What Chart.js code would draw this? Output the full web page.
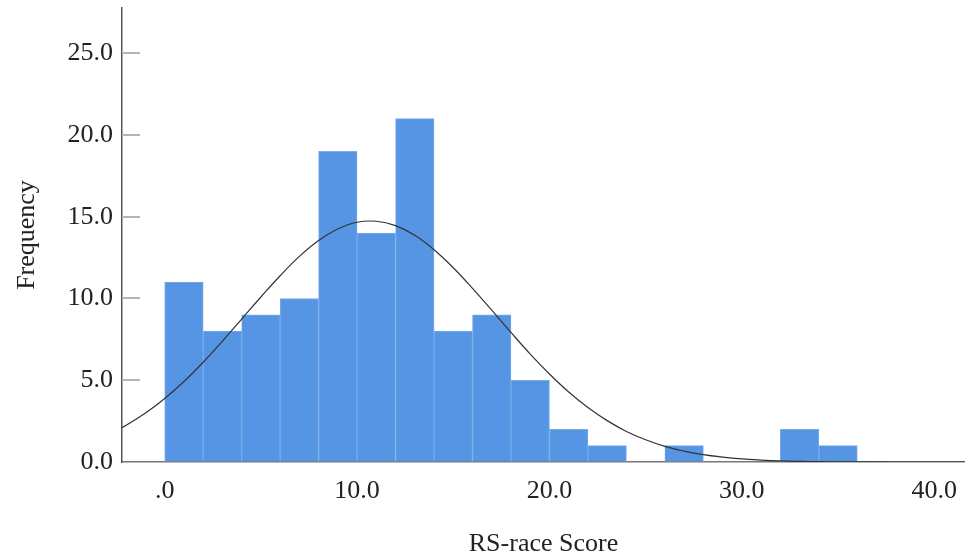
<!DOCTYPE html>
<html>
<head>
<meta charset="utf-8">
<script src="https://cdn.jsdelivr.net/npm/chart.js@4.4.1/dist/chart.umd.min.js"></script>
<style>
  html, body { margin: 0; padding: 0; background: #fff; }
  #wrap { width: 965px; height: 557px; }
</style>
</head>
<body>
<div id="wrap"><canvas id="hist"></canvas></div>
<script>
// histogram bins (width 2) - centers and counts
const binCenters = [1, 3, 5, 7, 9, 11, 13, 15, 17, 19, 21, 23, 25, 27, 29, 31, 33, 35];
const frequencies = [11, 8, 9, 10, 19, 14, 21, 8, 9, 5, 2, 1, 0, 1, 0, 0, 2, 1];

// normal curve
const curveX = [-3, -2, -1, 0, 1, 2, 3, 4, 5, 6, 7, 8, 9, 10, 11, 12, 13, 14, 15, 16, 17, 18, 19, 20,
  21, 22, 23, 24, 25, 26, 27, 28, 29, 30, 31, 32, 33, 34, 35, 36, 38, 40, 42];
const curveY = [1.65, 2.25, 2.99, 3.88, 4.92, 6.10, 7.39, 8.74, 10.09, 11.39, 12.57, 13.54, 14.25, 14.66,
  14.72, 14.45, 13.86, 12.98, 11.88, 10.62, 9.28, 7.92, 6.60, 5.38, 4.28, 3.33, 2.53, 1.87, 1.36, 0.96,
  0.67, 0.45, 0.30, 0.19, 0.12, 0.07, 0.04, 0.02, 0.01, 0.01, 0, 0, 0];

const xTickValues = [0, 10, 20, 30, 40];
const xTickLabels = ['.0', '10.0', '20.0', '30.0', '40.0'];
const yTickValues = [0, 5, 10, 15, 20, 25];
const yTickLabels = ['0.0', '5.0', '10.0', '15.0', '20.0', '25.0'];

const serif = "'Liberation Serif', 'DejaVu Serif', serif";

// short tick marks pointing into the plot on the y axis
const innerTicks = {
  id: 'innerTicks',
  afterDatasetsDraw(chart) {
    const y = chart.scales.y;
    const ctx = chart.ctx;
    const left = chart.chartArea.left;
    ctx.save();
    ctx.strokeStyle = '#b4b4b4';
    ctx.lineWidth = 2;
    y.ticks.forEach(t => {
      if (t.value === 0) return;
      const py = Math.round(y.getPixelForValue(t.value));
      ctx.beginPath();
      ctx.moveTo(left, py);
      ctx.lineTo(left + 18, py);
      ctx.stroke();
    });
    ctx.restore();
  }
};

new Chart(document.getElementById('hist'), {
  type: 'bar',
  data: {
    datasets: [{
      type: 'line',
      data: curveX.map((x, i) => ({ x: x, y: curveY[i] })),
      borderColor: '#333333',
      borderWidth: 1.2,
      pointRadius: 0,
      tension: 0.4,
      fill: false,
      order: 0
    }, {
      type: 'bar',
      data: binCenters.map((x, i) => ({ x: x, y: frequencies[i] })),
      backgroundColor: '#5595e3',
      borderColor: '#7aabea',
      borderWidth: 1,
      barPercentage: 1,
      categoryPercentage: 1,
      grouped: false,
      order: 1
    }]
  },
  options: {
    responsive: true,
    maintainAspectRatio: false,
    animation: false,
    layout: { padding: { top: 8, right: 0, left: 0, bottom: 0 } },
    plugins: { legend: { display: false }, tooltip: { enabled: false } },
    scales: {
      x: {
        type: 'linear',
        offset: false,
        min: -2.22,
        max: 41.6,
        afterBuildTicks: s => { s.ticks = xTickValues.map(v => ({ value: v })); },
        afterFit: s => { s.height = 95; s.paddingLeft = 0; s.paddingRight = 0; },
        ticks: {
          padding: 14,
          color: '#222',
          font: { family: serif, size: 26 },
          maxRotation: 0,
          callback: (v) => xTickLabels[xTickValues.indexOf(v)]
        },
        grid: { display: true, drawOnChartArea: false, drawTicks: false },
        border: { display: true, color: '#777', width: 1.5 },
        title: {
          display: true,
          text: 'RS-race Score',
          color: '#222',
          font: { family: serif, size: 26 },
          padding: { top: 0, bottom: -3 }
        }
      },
      y: {
        min: 0,
        max: 27.76,
        afterBuildTicks: s => { s.ticks = yTickValues.map(v => ({ value: v })); },
        afterFit: s => { s.width = 122; s.paddingTop = 0; s.paddingBottom = 0; },
        ticks: {
          padding: 9,
          color: '#222',
          font: { family: serif, size: 26 },
          callback: (v) => yTickLabels[yTickValues.indexOf(v)]
        },
        grid: { display: true, drawOnChartArea: false, drawTicks: false },
        border: { display: true, color: '#555', width: 1.5 },
        title: {
          display: true,
          text: 'Frequency',
          color: '#222',
          font: { family: serif, size: 26 },
          padding: { top: 12, bottom: 0 }
        }
      }
    }
  },
  plugins: [innerTicks]
});
</script>
</body>
</html>
